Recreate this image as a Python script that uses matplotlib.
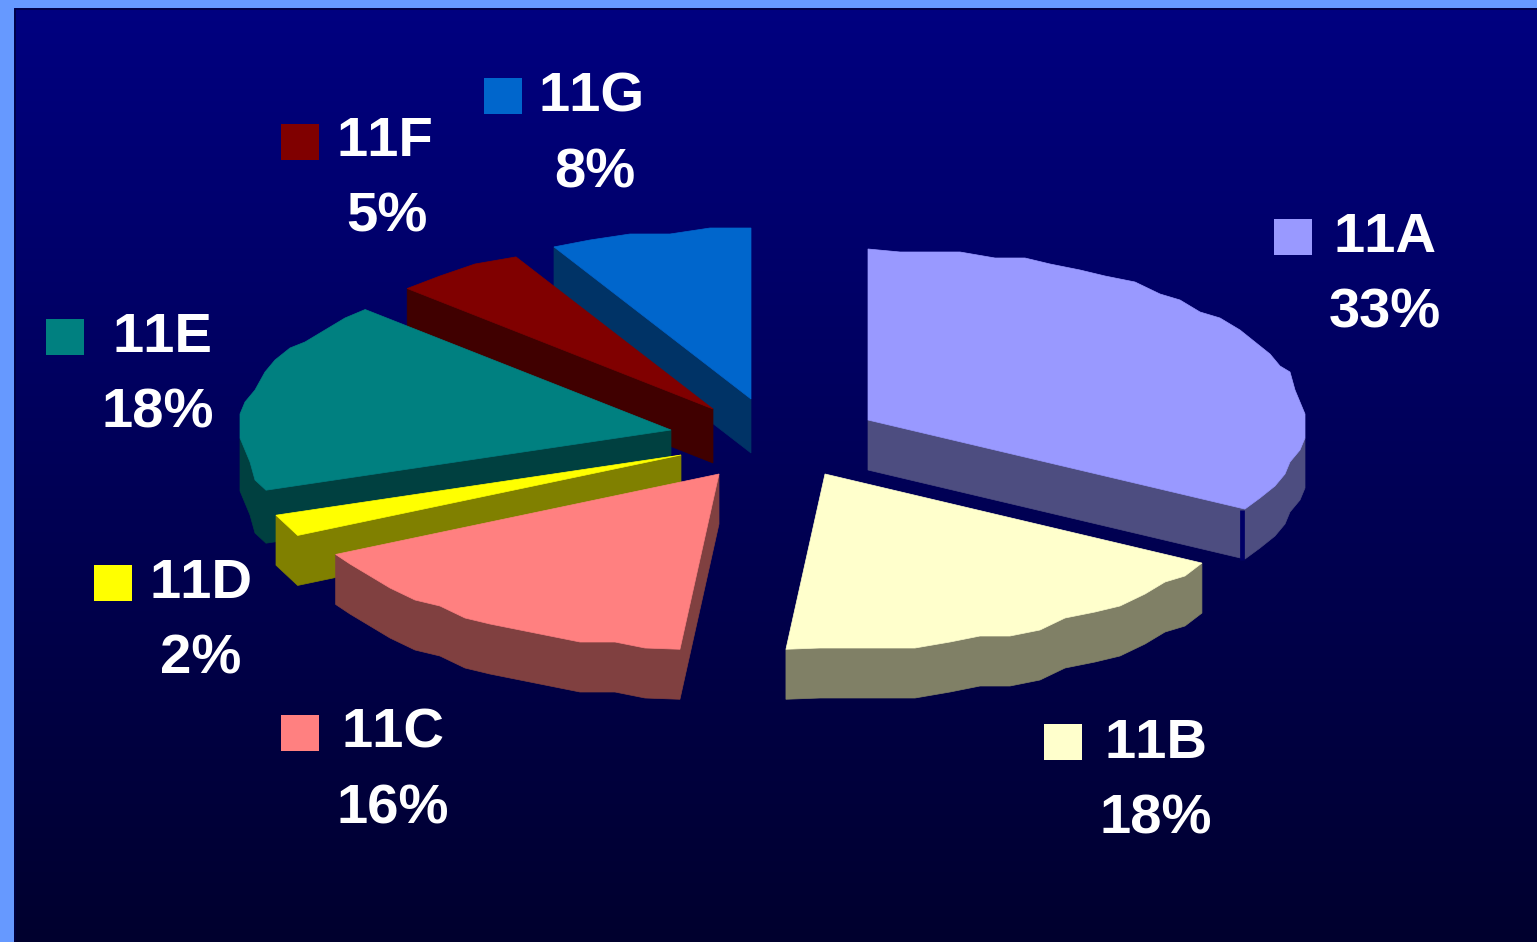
import numpy as np
import matplotlib; matplotlib.use('Agg')
import matplotlib.pyplot as plt
from matplotlib.patches import Polygon, Rectangle

plt.rcParams['font.family'] = ['Liberation Sans', 'DejaVu Sans']
plt.rcParams['text.kerning_factor'] = 6

# chart data
names = ['11A', '11B', '11C', '11D', '11E', '11F', '11G']
shares = [33, 18, 16, 2, 18, 5, 8]

# styles and layout, all in image pixels
top_colors = ['#9999ff', '#ffffcc', '#ff8080', '#ffff00', '#008080', '#800000', '#0066cc']
wall_colors = ['#4d4d80', '#808066', '#804040', '#808000', '#004040', '#400000', '#003366']
apex_x = [868, 825, 719, 681, 671, 713, 751]
apex_y = [420, 474, 474, 455, 430, 409, 399]
depths = [50, 50, 50, 50, 53, 54, 54]
key_x = [1274, 1044, 281, 94, 46, 281, 484]
key_y = [219, 724, 715, 565, 319, 124, 78]
name_x = [1385, 1156, 393, 201, 162, 385, 592]
name_y = [252, 758, 748, 598, 352, 156, 111]
pct_x = [1385, 1156, 393, 201, 158, 387, 595]
pct_y = [327, 833, 823, 673, 427, 231, 187]
draw_order = [6, 5, 4, 3, 2, 0, 1]

W, H = 1537, 942
rx_right, rx_left = 437., 431.
ry_up, ry_down = 171., 176.
angle_shift = 1.6  # degrees, slices sit slightly rotated

def arc_points(cx, cy, a0, a1):
    # stepped rim, the original has a coarse rendered edge
    n = max(2, int((a1 - a0) / 4.))
    ang = np.radians(np.linspace(a0, a1, n))
    s = np.sin(ang)
    x = cx + np.where(s > 0, rx_right, rx_left) * s
    ry = np.where(np.cos(ang) > 0, ry_up, ry_down)
    y = cy - ry * np.cos(ang)
    xs = np.round(x / 5.) * 5.
    ys = np.round(y / 6.) * 6.
    xs[0], ys[0] = x[0], y[0]
    xs[-1], ys[-1] = x[-1], y[-1]
    return list(zip(xs, ys))

def wall_runs(outline):
    # runs of edges going left on screen, these face the viewer
    # start walking just after a hidden edge so a run never wraps around
    n = len(outline)
    left = [outline[(j + 1) % n][0] < outline[j][0] for j in range(n)]
    start = 0
    for j in range(n):
        if not left[j]:
            start = (j + 1) % n
            break
    runs = []
    cur = []
    for k in range(n):
        j = (start + k) % n
        if left[j]:
            if not cur:
                cur = [outline[j]]
            cur.append(outline[(j + 1) % n])
        elif cur:
            runs.append(cur)
            cur = []
    if cur:
        runs.append(cur)
    return runs

fig = plt.figure(figsize=(W / 100., H / 100.), dpi=100, facecolor='#6699ff')
ax = fig.add_axes([0, 0, 1, 1])

# background panel with vertical gradient
grad = np.zeros((256, 1, 3))
grad[:, 0, 2] = np.linspace(128, 46, 256) / 255.
ax.imshow(grad, extent=[14, W, H, 8], aspect='auto', zorder=0, interpolation='bilinear')
ax.set_xlim(0, W)
ax.set_ylim(H, 0)
ax.axis('off')
ax.plot([14.5, 14.5, W], [H, 8.5, 8.5], color='#000040', lw=1.2, zorder=1)

edges = angle_shift + 3.6 * np.cumsum([0] + shares)
edges[0] = 0.
edges[-1] = 360.

z = 2
for i in draw_order:
    cx, cy = apex_x[i], apex_y[i]
    depth = depths[i]
    outline = [(cx, cy)] + arc_points(cx, cy, edges[i], edges[i + 1])
    for run in wall_runs(outline):
        wall = run + [(p[0], p[1] + depth) for p in run[::-1]]
        ax.add_patch(Polygon(wall, closed=True, fc=wall_colors[i], ec=wall_colors[i], lw=0.5, zorder=z))
    ax.add_patch(Polygon(outline, closed=True, fc=top_colors[i], ec=top_colors[i], lw=0.5, zorder=z + 1))
    if i == 0:
        # dark slit between the cut face and the rim of 11A
        px, py = outline[-1]
        ax.plot([px - 2.5, px - 2.5], [py + 1, py + depth + 1], color='#000066', lw=3.4,
                solid_capstyle='butt', zorder=z + 0.5)
    z += 2

for i in range(len(names)):
    ax.add_patch(Rectangle((key_x[i], key_y[i]), 38, 36, fc=top_colors[i], ec='none', zorder=30))
    ax.text(name_x[i], name_y[i], names[i], color='white', fontsize=40.5, fontweight='bold',
            ha='center', va='baseline', zorder=31)
    ax.text(pct_x[i], pct_y[i], '%d%%' % shares[i], color='white', fontsize=40.5, fontweight='bold',
            ha='center', va='baseline', zorder=31)

fig.savefig('out.png', dpi=100, facecolor=fig.get_facecolor())
